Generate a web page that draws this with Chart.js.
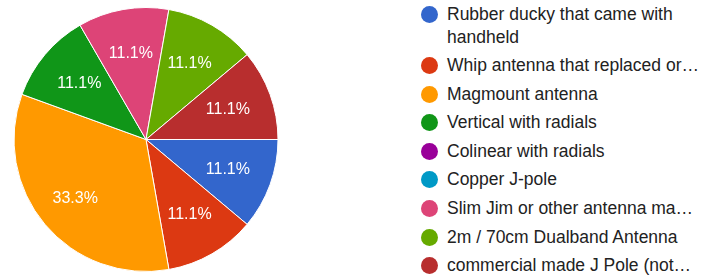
<!DOCTYPE html>
<html>
<head>
<meta charset="utf-8">
<script src="https://cdn.jsdelivr.net/npm/chart.js@4"></script>
<style>
  html, body {
    margin: 0;
    padding: 0;
    background: #ffffff;
    overflow: hidden;
  }
  #wrap {
    position: relative;
    width: 702px;
    height: 275px;
  }
  #pie-box {
    position: absolute;
    left: 0;
    top: 0;
    width: 290px;
    height: 275px;
  }
  #legend {
    position: absolute;
    left: 419px;
    top: 2.5px;
    margin: 0;
    padding: 0;
    list-style: none;
    font-family: "Liberation Sans", Arial, sans-serif;
    font-size: 17.5px;
    line-height: 23px;
    color: #222222;
  }
  #legend li {
    position: relative;
    padding-left: 28px;
    margin-bottom: 5.6px;
    width: 262px;
  }
  #legend .dot {
    position: absolute;
    left: 2px;
    top: 3px;
    width: 17px;
    height: 17px;
    border-radius: 50%;
  }
</style>
</head>
<body>
<div id="wrap">
  <div id="pie-box"><canvas id="pie-chart"></canvas></div>
  <ul id="legend"></ul>
</div>
<script>
const categories = [
  "Rubber ducky that came with handheld",
  "Whip antenna that replaced or\u2026",
  "Magmount antenna",
  "Vertical with radials",
  "Colinear with radials",
  "Copper J-pole",
  "Slim Jim or other antenna ma\u2026",
  "2m / 70cm Dualband  Antenna",
  "commercial made J Pole (not\u2026",
];
const responses = [1, 1, 3, 1, 0, 0, 1, 1, 1];
const sliceColors = [
  "#3366cc",
  "#dc3912",
  "#ff9900",
  "#109618",
  "#990099",
  "#0099c6",
  "#dd4477",
  "#66aa00",
  "#b82e2e",
];

// percent labels written inside each slice, like the google chart did
const sliceLabels = {
  id: "sliceLabels",
  afterDatasetsDraw(chart) {
    const ctx = chart.ctx;
    const meta = chart.getDatasetMeta(0);
    const total = responses.reduce((a, b) => a + b, 0);
    ctx.save();
    ctx.font = '16px "Liberation Sans", Arial, sans-serif';
    ctx.fillStyle = "#ffffff";
    ctx.textAlign = "center";
    ctx.textBaseline = "middle";
    meta.data.forEach((arc, i) => {
      if (!responses[i]) return;
      const p = arc.getProps(["x", "y", "startAngle", "endAngle", "outerRadius"], true);
      const mid = (p.startAngle + p.endAngle) / 2;
      const r = p.outerRadius * (responses[i] / total > 0.2 ? 0.7 : 0.66);
      const pct = ((responses[i] / total) * 100).toFixed(1) + "%";
      ctx.fillText(pct, p.x + Math.cos(mid) * r, p.y + Math.sin(mid) * r);
    });
    ctx.restore();
  },
};

const buildLegend = () => {
  const list = document.getElementById("legend");
  let innerHTML = "";
  categories.forEach((name, i) => {
    innerHTML += `<li><span class="dot" style="background:${sliceColors[i]}"></span>${name}</li>`;
  });
  list.innerHTML = innerHTML;
};

document.addEventListener("DOMContentLoaded", () => {
  buildLegend();
  const pieCtx = document.getElementById("pie-chart");
  new Chart(pieCtx, {
    type: "pie",
    data: {
      labels: categories,
      datasets: [
        {
          data: responses,
          backgroundColor: sliceColors,
          borderColor: "#ffffff",
          borderWidth: 1,
        },
      ],
    },
    options: {
      responsive: true,
      maintainAspectRatio: false,
      animation: false,
      rotation: 90,
      layout: {
        padding: { top: 7, bottom: 3, left: 12, right: 10 },
      },
      plugins: {
        legend: { display: false },
        tooltip: { enabled: false },
      },
    },
    plugins: [sliceLabels],
  });
});
</script>
</body>
</html>
